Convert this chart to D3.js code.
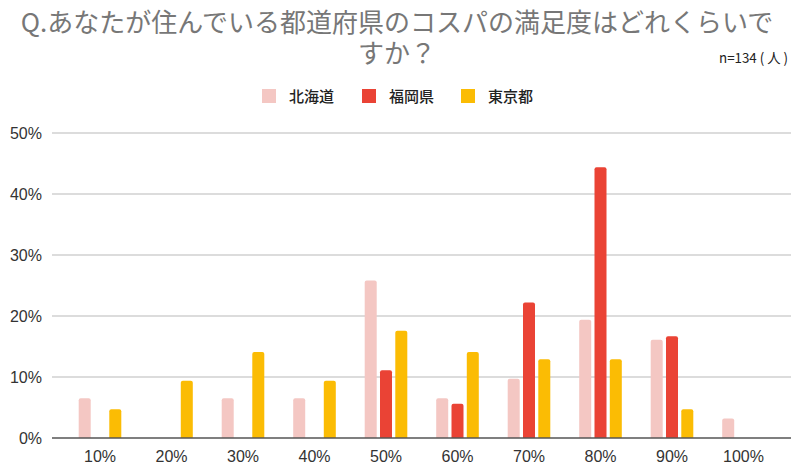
<!DOCTYPE html>
<html>
<head>
<meta charset="utf-8">
<script src="https://cdn.jsdelivr.net/npm/d3@7"></script>
<style>
  html, body { margin: 0; padding: 0; background: #fff; }
  svg { display: block; }
</style>
</head>
<body>
<svg id="chart" width="800" height="466"></svg>
<script>
const categories = ["10%", "20%", "30%", "40%", "50%", "60%", "70%", "80%", "90%", "100%"];
const seriesNames = ["北海道", "福岡県", "東京都"];
const hokkaido = [6.5, 0, 6.5, 6.5, 25.8, 6.5, 9.7, 19.4, 16.1, 3.2];
const fukuoka  = [0, 0, 0, 0, 11.1, 5.6, 22.2, 44.4, 16.7, 0];
const tokyo    = [4.7, 9.4, 14.1, 9.4, 17.6, 14.1, 12.9, 12.9, 4.7, 0];
const yTicks = [0, 10, 20, 30, 40, 50];
const colors = ["#f4c7c3", "#ea4335", "#fbbc04"];
const titleLines = ["Q.あなたが住んでいる都道府県のコスパの満足度はどれくらいで", "すか？"];
const noteText = "n=134 ( 人 )";

const seriesValues = [hokkaido, fukuoka, tokyo];
const svg = d3.select("#chart");

const plotLeft = 52, plotRight = 791, plotTop = 133, plotBottom = 438;

const x = d3.scaleBand().domain(categories).range([64.25, 779.25]).padding(0);
const xs = d3.scaleBand().domain(seriesNames).range([14.45, 57.05]).paddingInner(0.215).paddingOuter(0);
const y = d3.scaleLinear().domain([0, 50]).range([plotBottom, plotTop]);

// Title
svg.selectAll("text.title").data(titleLines).enter().append("text")
  .attr("class", "title")
  .attr("x", 397)
  .attr("y", (d, i) => 32 + i * 31)
  .attr("text-anchor", "middle")
  .attr("font-family", "'Noto Sans CJK JP', sans-serif")
  .attr("font-size", 26)
  .attr("fill", "#777")
  .text(d => d);

svg.append("text")
  .attr("x", 719)
  .attr("y", 63)
  .attr("font-family", "'Noto Sans CJK JP', sans-serif")
  .attr("font-size", 14)
  .attr("fill", "#222")
  .attr("textLength", 69)
  .attr("lengthAdjust", "spacingAndGlyphs")
  .text(noteText);

// Legend
const legendX = [262, 362, 461];
const legend = svg.selectAll("g.legend").data(seriesNames).enter().append("g")
  .attr("class", "legend")
  .attr("transform", (d, i) => `translate(${legendX[i]},89)`);
legend.append("rect")
  .attr("width", 14).attr("height", 14)
  .attr("fill", (d, i) => colors[i]);
legend.append("text")
  .attr("x", 27).attr("y", 12.5)
  .attr("font-family", "'Noto Sans CJK JP', sans-serif")
  .attr("font-size", 15)
  .attr("font-weight", 500)
  .attr("fill", "#222")
  .text(d => d);

// Gridlines
svg.append("g").selectAll("line").data(yTicks.filter(t => t > 0)).enter().append("line")
  .attr("x1", plotLeft).attr("x2", plotRight)
  .attr("y1", d => y(d)).attr("y2", d => y(d))
  .attr("stroke", "#d0d0d0").attr("stroke-width", 1.3);

// Y axis labels
const yAxis = d3.axisLeft(y).tickValues(yTicks).tickFormat(d => d + "%").tickSize(0).tickPadding(0);
const yg = svg.append("g").attr("transform", "translate(42,0)").call(yAxis);
yg.select(".domain").remove();
yg.selectAll("text")
  .attr("font-family", "'Liberation Sans', Arial, sans-serif")
  .attr("font-size", 16)
  .attr("fill", "#333");

// Bars
const groups = svg.append("g").selectAll("g").data(categories).enter().append("g")
  .attr("transform", d => `translate(${x(d)},0)`);
groups.selectAll("path").data((c, ci) => seriesNames.map((s, si) => ({s, si, v: seriesValues[si][ci]})).filter(d => d.v > 0))
  .enter().append("path")
  .attr("fill", d => colors[d.si])
  .attr("d", d => {
    const x0 = xs(d.s), w = xs.bandwidth(), y0 = y(d.v), y1 = y(0), r = 2;
    return `M${x0},${y1} L${x0},${y0 + r} Q${x0},${y0} ${x0 + r},${y0} L${x0 + w - r},${y0} Q${x0 + w},${y0} ${x0 + w},${y0 + r} L${x0 + w},${y1} Z`;
  });

// X axis
const xAxis = d3.axisBottom(x).tickSize(0).tickPadding(13);
const xg = svg.append("g").attr("transform", `translate(0,${plotBottom})`).call(xAxis);
xg.select(".domain").remove();
xg.selectAll("text")
  .attr("font-family", "'Liberation Sans', Arial, sans-serif")
  .attr("font-size", 16)
  .attr("fill", "#333");

svg.append("line")
  .attr("x1", plotLeft).attr("x2", plotRight)
  .attr("y1", plotBottom).attr("y2", plotBottom)
  .attr("stroke", "#555").attr("stroke-width", 1.5);
</script>
</body>
</html>
